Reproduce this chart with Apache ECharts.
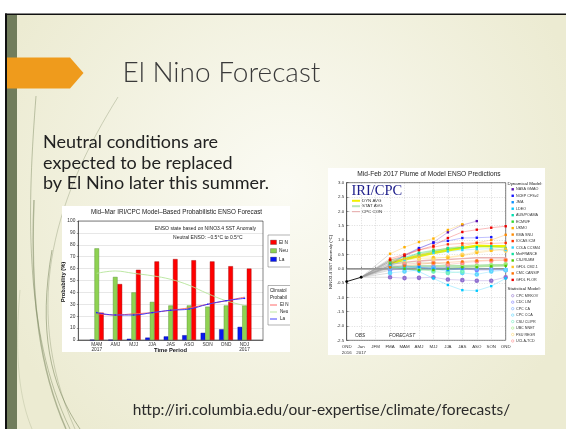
<!DOCTYPE html>
<html><head><meta charset="utf-8">
<script src="https://cdn.jsdelivr.net/npm/echarts@6/dist/echarts.min.js"></script>
<style>html,body{margin:0;padding:0;background:#fff}#c{width:566px;height:429px}</style>
</head><body><div id="c"></div>
<script>
// ---------- Left chart: probabilistic ENSO forecast ----------
const probSeasons = ['MAM','AMJ','MJJ','JJA','JAS','ASO','SON','OND','NDJ'];
const probSeasonYears = ['2017','','','','','','','','2017'];
const laNinaProb  = [0,0,1,2,3,4,6,9,11];
const neutralProb = [77,53,40,32,29,29,28,29,29];
const elNinoProb  = [23,47,59,66,68,67,66,62,60];
const climElNino  = [22,21,22,23,25,27,30,33,36];
const climNeutral = [56,58,56,54,51,46,39,33,29];
const climLaNina  = [23,21,21,23,25,26,30,33,35];

// ---------- Right chart: model plume ----------
const plumeSeasons = ['OND','Jan','JFM','FMA','MAM','AMJ','MJJ','JJA','JAS','ASO','SON','OND'];
const plumeYears   = ['2016','2017','','','','','','','','','',''];
const observed = [-0.45,-0.30];
// forecasts FMA..OND
const nasaGmao  = [0.20,0.45,0.70,0.92,1.27,1.52,1.66,null,null];
const ncepCfsv2 = [0.12,0.47,0.72,0.90,0.97,1.07,1.08,1.10,null];
const jma       = [0.05,0.10,0.05,0.00,-0.05,0.00,null,null,null];
const ldeo      = [0.10,0.00,-0.10,-0.34,-0.57,-0.75,-0.77,-0.61,-0.34];
const ausPoama  = [0.30,0.40,0.50,0.60,0.68,0.72,0.75,0.78,0.72];
const ecmwf     = [0.18,0.35,0.55,0.65,0.70,0.75,null,null,null];
const ukmo      = [0.52,0.75,0.93,1.05,1.35,1.55,null,null,null];
const kmaSnu    = [0.25,0.35,0.50,0.62,0.72,0.80,0.90,1.00,1.18];
const iocasIcm  = [0.35,0.50,0.65,0.75,0.85,0.88,0.90,0.88,0.90];
const colaCcsm4 = [0.10,0.30,0.45,0.55,0.60,0.65,0.68,0.70,0.65];
const metFrance = [0.25,0.40,0.55,0.62,0.72,0.75,null,null,null];
const csIriMm   = [0.05,0.00,-0.05,-0.05,0.00,0.05,0.05,0.08,0.10];
const gfdlCm21  = [0.30,0.35,0.42,0.40,0.38,0.45,0.55,0.62,0.70];
const cmcCansip = [0.05,0.10,0.15,0.20,0.22,0.25,0.28,0.30,0.30];
const gfdlFlor  = [0.30,0.45,0.65,0.80,1.07,1.28,1.36,1.43,1.48];
const cpcMrkov  = [-0.30,-0.33,-0.32,-0.30,-0.38,-0.40,-0.42,-0.42,-0.30];
const cdcLim    = [-0.05,0.00,0.05,0.05,0.02,0.00,-0.05,-0.05,-0.05];
const cpcCa     = [0.00,0.05,0.05,0.00,0.00,0.00,0.00,0.00,-0.05];
const cpcCca    = [-0.15,-0.10,-0.05,0.00,-0.10,-0.15,-0.20,-0.10,-0.05];
const csuClipr  = [0.10,0.10,0.00,-0.10,-0.15,-0.10,null,null,null];
const ubcNnet   = [0.15,0.20,0.20,0.20,0.15,0.10,0.10,0.12,0.15];
const fsuRegr   = [0.25,0.30,0.35,0.35,0.40,0.48,0.59,0.66,0.63];
const uclaTcd   = [0.10,0.15,0.20,0.20,0.15,0.20,0.25,0.28,0.30];
const dynAvg    = [0.17,0.32,0.44,0.55,0.64,0.72,0.80,0.78,0.78];
const statAvg   = [0.02,0.05,0.08,0.08,0.08,0.08,0.10,0.12,0.12];
const cpcCon    = [0.15,0.22,0.27,0.30,0.32,0.35,0.38,0.38,0.38];

const dynNames = ['NASA GMAO','NCEP CFSv2','JMA','LDEO','AUS/POAMA','ECMWF','UKMO','KMA SNU','IOCAS ICM','COLA CCSM4','MetFRANCE','CS-IRI-MM','GFDL CM2.1','CMC CANSIP','GFDL FLOR'];
const dynValues = [nasaGmao,ncepCfsv2,jma,ldeo,ausPoama,ecmwf,ukmo,kmaSnu,iocasIcm,colaCcsm4,metFrance,csIriMm,gfdlCm21,cmcCansip,gfdlFlor];
const statNames = ['CPC MRKOV','CDC LIM','CPC CA','CPC CCA','CSU CLIPR','UBC NNET','FSU REGR','UCLA-TCD'];
const statValues = [cpcMrkov,cdcLim,cpcCa,cpcCca,csuClipr,ubcNnet,fsuRegr,uclaTcd];
const avgNames = ['DYN AVG','STAT AVG','CPC CON'];
const avgValues = [dynAvg,statAvg,cpcCon];

// ---------- styles ----------
const dynColors = ['#5a10b0','#1414ff','#0a90ff','#00c8ff','#00e0b0','#30d830','#ffb000','#ff8a00','#ff3000','#30d0ff','#10e0a0','#50c800','#ffc020','#ff7000','#ee0000'];
const statColors = ['#9070d0','#8080ff','#70a8ff','#60d8ff','#70f0c0','#a0ec80','#ffd870','#ff9090'];
const avgColors = ['#f2f000','#b8e4b8','#e8b4b4'];
const avgWidths = [2.6,2.6,1.4];
const SF = 'Liberation Sans';
const slideFont = 'Lato';

const chart = echarts.init(document.getElementById('c'), null, {renderer:'canvas'});

const pad = a => [null,null,null].concat(a);
const series = [];
// left bars
const probCats = [''].concat(probSeasons, ['']);
const wrapBar = a => ['-'].concat(a, ['-']);
const wrapLine = a => [null].concat(a, [null]);
series.push({type:'bar', name:'La Nina', xAxisIndex:0, yAxisIndex:0, data:wrapBar(laNinaProb), barWidth:4.6, barGap:'0%', itemStyle:{color:'#0818f0', borderColor:'#000088', borderWidth:0.4}});
series.push({type:'bar', name:'Neutral', xAxisIndex:0, yAxisIndex:0, data:wrapBar(neutralProb), barWidth:4.6, barGap:'0%', itemStyle:{color:'#8fd252', borderColor:'#4f8a2a', borderWidth:0.4}});
series.push({type:'bar', name:'El Nino', xAxisIndex:0, yAxisIndex:0, data:wrapBar(elNinoProb), barWidth:4.6, barGap:'0%', itemStyle:{color:'#ff0000', borderColor:'#990000', borderWidth:0.4}});
series.push({type:'line', xAxisIndex:0, yAxisIndex:0, data:wrapLine(climNeutral), smooth:0.4, symbol:'none', lineStyle:{color:'#b6e49a', width:0.9}, z:5});
series.push({type:'line', xAxisIndex:0, yAxisIndex:0, data:wrapLine(climElNino), smooth:0.4, symbol:'none', lineStyle:{color:'#ff5a5a', width:0.9}, z:5});
series.push({type:'line', xAxisIndex:0, yAxisIndex:0, data:wrapLine(climLaNina), smooth:0.4, symbol:'circle', symbolSize:1.6, itemStyle:{color:'#2020ff'}, lineStyle:{color:'#3030ff', width:0.9}, z:6});

// right: connectors (gray fan Jan -> FMA)
dynValues.concat(statValues).forEach(v => {
  series.push({type:'line', xAxisIndex:1, yAxisIndex:1, data:[[1,observed[1]],[3,v[0]]], symbol:'none', silent:true, lineStyle:{color:'#9a9a9a', width:0.5, opacity:0.7}, z:3});
});
// right: averages
avgValues.forEach((v,i) => {
  series.push({type:'line', xAxisIndex:1, yAxisIndex:1, data:pad(v), symbol:'none', lineStyle:{color:avgColors[i], width:avgWidths[i]}, z:4});
});
// statistical models
statValues.forEach((v,i) => {
  series.push({type:'line', xAxisIndex:1, yAxisIndex:1, data:pad(v), symbol:'emptyCircle', symbolSize:2.6, itemStyle:{color:statColors[i], borderWidth:0.6}, lineStyle:{color:statColors[i], width:0.6, opacity:0.55}, z:5});
});
// dynamical models
dynValues.forEach((v,i) => {
  series.push({type:'line', xAxisIndex:1, yAxisIndex:1, data:pad(v), symbol:'rect', symbolSize:2.4, itemStyle:{color:dynColors[i]}, lineStyle:{color:dynColors[i], width:0.6, opacity:0.45}, z:6});
});
// observed
series.push({type:'line', xAxisIndex:1, yAxisIndex:1, data:observed, symbol:'circle', symbolSize:2.8, itemStyle:{color:'#000'}, lineStyle:{color:'#000', width:0.9}, z:7,
  markLine:{silent:true, symbol:'none', label:{show:false}, data:[{yAxis:0}], lineStyle:{color:'#9a9a9a', width:1.6, type:'solid'}}});

// ---------- graphics ----------
const g = [];
g.push({type:'rect', z:-20, shape:{x:5,y:14,width:561,height:415}, style:{fill:{type:'radial', x:0.5, y:0.42, r:0.75, colorStops:[{offset:0,color:'#fbfbf4'},{offset:1,color:'#ecebd2'}]}}});
g.push({type:'rect', z:-19, shape:{x:5,y:13.5,width:561,height:1.6}, style:{fill:'#111'}});
g.push({type:'rect', z:-19, shape:{x:5,y:13.5,width:2,height:416}, style:{fill:'#111'}});
g.push({type:'rect', z:-19, shape:{x:7,y:15,width:10,height:414}, style:{fill:'#717d5c'}});
// wisps
const wisp = (x1,y1,c1x,c1y,c2x,c2y,x2,y2,w,o) => g.push({type:'bezierCurve', z:-18, shape:{x1,y1,cpx1:c1x,cpy1:c1y,cpx2:c2x,cpy2:c2y,x2,y2}, style:{stroke:'#6b7a50', lineWidth:w, opacity:o, fill:null}});
wisp(118,97, 60,190, 18,300, 75,429, 0.6,0.5);
wisp(36,96, 28,200, 22,330, 70,429, 0.9,0.45);
wisp(34,200, 30,300, 40,370, 66,429, 1.4,0.5);
wisp(20,290, 14,360, 20,400, 32,429, 0.6,0.3);
wisp(52,250, 38,330, 50,385, 80,429, 1.0,0.5);
// orange arrow
g.push({type:'polygon', z:-17, shape:{points:[[7,57.5],[70,57.5],[83.5,73],[70,88.5],[7,88.5]]}, style:{fill:'#ef9b1c'}});
g.push({type:'text', z:50, style:{text:'El Nino Forecast', x:221.5, y:73, textAlign:'center', textVerticalAlign:'middle', font:'300 28px '+slideFont, fill:'#3a3a3a'}});
g.push({type:'text', z:50, style:{text:'Neutral conditions are\nexpected to be replaced\nby El Nino later this summer.', x:43, y:132, textAlign:'left', textVerticalAlign:'top', font:'18px '+slideFont, lineHeight:20.5, fill:'#222'}});
g.push({type:'text', z:50, style:{text:'http://iri.columbia.edu/our-expertise/climate/forecasts/', x:321.5, y:410, textAlign:'center', textVerticalAlign:'middle', font:'15.5px '+slideFont, fill:'#2a2a2a'}});
// image backgrounds
g.push({type:'rect', z:-10, shape:{x:62,y:206,width:228,height:146}, style:{fill:'#fff'}});
g.push({type:'rect', z:-10, shape:{x:328,y:168,width:217,height:187}, style:{fill:'#fff'}});
// left chart texts
g.push({type:'text', z:50, style:{text:'Mid\u2013Mar IRI/CPC Model\u2013Based Probabilistic ENSO Forecast', x:176.5, y:212.5, textAlign:'center', textVerticalAlign:'middle', font:'6.3px '+SF, fill:'#222'}});
g.push({type:'text', z:50, style:{text:'ENSO state based on NINO3.4 SST Anomaly', x:256, y:229, textAlign:'right', textVerticalAlign:'middle', font:'5px '+SF, fill:'#222'}});
g.push({type:'text', z:50, style:{text:'Neutral ENSO: \u22120.5\u00B0C to 0.5\u00B0C', x:242.5, y:238, textAlign:'right', textVerticalAlign:'middle', font:'5px '+SF, fill:'#222'}});
g.push({type:'text', z:50, style:{text:'Time Period', x:170.5, y:350.5, textAlign:'center', textVerticalAlign:'middle', font:'bold 5.8px '+SF, fill:'#111'}});
g.push({type:'text', z:50, rotation:Math.PI/2, x:63.5, y:282, style:{text:'Probability (%)', x:0, y:0, textAlign:'center', textVerticalAlign:'middle', font:'bold 5.8px '+SF, fill:'#111'}});
// left legend box 1
g.push({type:'polyline', z:50, shape:{points:[[290,235],[268,235],[268,267],[290,267]]}, style:{stroke:'#666', lineWidth:0.5, fill:null}});
const leftLegend = [['El Nino','#ff0000'],['Neutral','#8fd252'],['La Nina','#0818f0']];
leftLegend.forEach((it,i) => {
  const y = 242.3 + i*8.5;
  g.push({type:'rect', z:50, shape:{x:270.5,y:y-2.2,width:6,height:4.4}, style:{fill:it[1], stroke:'#333', lineWidth:0.3}});
  g.push({type:'text', z:50, style:{text:it[0], x:279, y:y, width:11, overflow:'truncate', ellipsis:'', textAlign:'left', textVerticalAlign:'middle', font:'4.8px '+SF, fill:'#222'}});
});
// left legend box 2
g.push({type:'polyline', z:50, shape:{points:[[290,285.5],[268,285.5],[268,325],[290,325]]}, style:{stroke:'#666', lineWidth:0.5, fill:null}});
g.push({type:'text', z:50, style:{text:'Climatological', x:270, y:290.5, width:20, overflow:'truncate', ellipsis:'', textAlign:'left', textVerticalAlign:'middle', font:'4.6px '+SF, fill:'#222'}});
g.push({type:'text', z:50, style:{text:'Probability:', x:270, y:298, width:20, overflow:'truncate', ellipsis:'', textAlign:'left', textVerticalAlign:'middle', font:'4.6px '+SF, fill:'#222'}});
const leftLegend2 = [['El Nino','#ff5a5a'],['Neutral','#b6e49a'],['La Nina','#3030ff']];
leftLegend2.forEach((it,i) => {
  const y = 305 + i*7;
  g.push({type:'line', z:50, shape:{x1:270,y1:y,x2:277,y2:y}, style:{stroke:it[1], lineWidth:0.9}});
  g.push({type:'text', z:50, style:{text:it[0], x:280, y:y, width:10, overflow:'truncate', ellipsis:'', textAlign:'left', textVerticalAlign:'middle', font:'4.6px '+SF, fill:'#222'}});
});
// right chart texts
g.push({type:'text', z:50, style:{text:'Mid-Feb 2017 Plume of Model ENSO Predictions', x:429, y:174, textAlign:'center', textVerticalAlign:'middle', font:'6.6px '+SF, fill:'#222'}});
g.push({type:'text', z:50, style:{text:'IRI/CPC', x:351.5, y:191, textAlign:'left', textVerticalAlign:'middle', font:'14.5px "Liberation Serif"', fill:'#1c1c8a'}});
avgNames.forEach((n,i) => {
  const y = 200.8 + i*5.4;
  g.push({type:'line', z:50, shape:{x1:352,y1:y,x2:360,y2:y}, style:{stroke:avgColors[i], lineWidth:i<2?2:1.2}});
  g.push({type:'text', z:50, style:{text:n, x:362, y:y, textAlign:'left', textVerticalAlign:'middle', font:'4.4px '+SF, fill:'#333'}});
});
g.push({type:'text', z:50, style:{text:'OBS', x:355, y:335.5, textAlign:'left', textVerticalAlign:'middle', font:'italic 4.8px '+SF, fill:'#333'}});
g.push({type:'text', z:50, style:{text:'FORECAST', x:389, y:335.5, textAlign:'left', textVerticalAlign:'middle', font:'italic 4.8px '+SF, fill:'#333'}});
g.push({type:'text', z:50, rotation:Math.PI/2, x:330.5, y:262, style:{text:'NINO3.4 SST Anomaly (\u00B0C)', x:0, y:0, textAlign:'center', textVerticalAlign:'middle', font:'4.4px '+SF, fill:'#222'}});
g.push({type:'text', z:50, style:{text:'Dynamical Model:', x:507.5, y:184, textAlign:'left', textVerticalAlign:'middle', font:'4.4px '+SF, fill:'#222'}});
dynNames.forEach((n,i) => {
  const y = 189.3 + i*6.47;
  g.push({type:'rect', z:50, shape:{x:511.5,y:y-1.2,width:2.4,height:2.4}, style:{fill:dynColors[i]}});
  g.push({type:'text', z:50, style:{text:n, x:516, y:y, textAlign:'left', textVerticalAlign:'middle', font:'3.7px '+SF, fill:'#333'}});
});
g.push({type:'text', z:50, style:{text:'Statistical Model:', x:507.5, y:288.3, textAlign:'left', textVerticalAlign:'middle', font:'4.4px '+SF, fill:'#222'}});
statNames.forEach((n,i) => {
  const y = 295.7 + i*6.47;
  g.push({type:'circle', z:50, shape:{cx:512.7,cy:y,r:1.2}, style:{fill:'#fff', stroke:statColors[i], lineWidth:0.6}});
  g.push({type:'text', z:50, style:{text:n, x:516, y:y, textAlign:'left', textVerticalAlign:'middle', font:'3.7px '+SF, fill:'#333'}});
});

const option = {
  animation:false,
  backgroundColor:'#ffffff',
  grid:[
    {left:78.3, top:221, width:184.7, height:119, show:true, borderColor:'#333', borderWidth:0.6, backgroundColor:'transparent', z:1},
    {left:346.7, top:182.7, width:159, height:157.6, show:true, borderColor:'#333', borderWidth:0.6, backgroundColor:'transparent', z:1}
  ],
  xAxis:[
    {type:'category', gridIndex:0, data:probCats, boundaryGap:false,
     axisLine:{lineStyle:{color:'#333', width:0.6}}, axisTick:{show:false},
     axisLabel:{interval:0, margin:2.5, fontSize:4.8, fontFamily:SF, color:'#333', lineHeight:5,
       formatter:(v,i)=> i===0||i===probCats.length-1 ? '' : (probSeasonYears[i-1] ? v+'\n'+probSeasonYears[i-1] : v)},
     splitLine:{show:false}},
    {type:'category', gridIndex:1, data:plumeSeasons.map((s,i)=>i), boundaryGap:false,
     axisLine:{lineStyle:{color:'#333', width:0.6}}, axisTick:{show:true, inside:true, length:2, lineStyle:{color:'#333', width:0.5}},
     axisLabel:{interval:0, margin:3, fontSize:4.4, fontFamily:SF, color:'#333', lineHeight:6.5,
       formatter:(v,i)=> plumeYears[i] ? plumeSeasons[i]+'\n'+plumeYears[i] : plumeSeasons[i]},
     splitLine:{show:true, lineStyle:{color:'#bbb', width:0.5, type:[1,1.5]}}}
  ],
  yAxis:[
    {type:'value', gridIndex:0, min:0, max:100, interval:10,
     axisLine:{show:true, lineStyle:{color:'#333', width:0.6}}, axisTick:{show:true, length:1.5, lineStyle:{color:'#333', width:0.5}},
     axisLabel:{margin:3, fontSize:4.8, fontFamily:SF, color:'#333'},
     splitLine:{show:true, lineStyle:{color:'#cfcfcf', width:0.5}}},
    {type:'value', gridIndex:1, min:-2.5, max:3.0, interval:0.5,
     axisLine:{show:true, lineStyle:{color:'#333', width:0.6}}, axisTick:{show:true, inside:true, length:2, lineStyle:{color:'#333', width:0.5}},
     axisLabel:{margin:2.5, fontSize:4.4, fontFamily:SF, color:'#333', formatter:v=>v.toFixed(1)},
     splitLine:{show:true, lineStyle:{color:'#bbb', width:0.5, type:[1,1.5]}}}
  ],
  graphic:{elements:g},
  series:series
};
chart.setOption(option);
</script></body></html>
